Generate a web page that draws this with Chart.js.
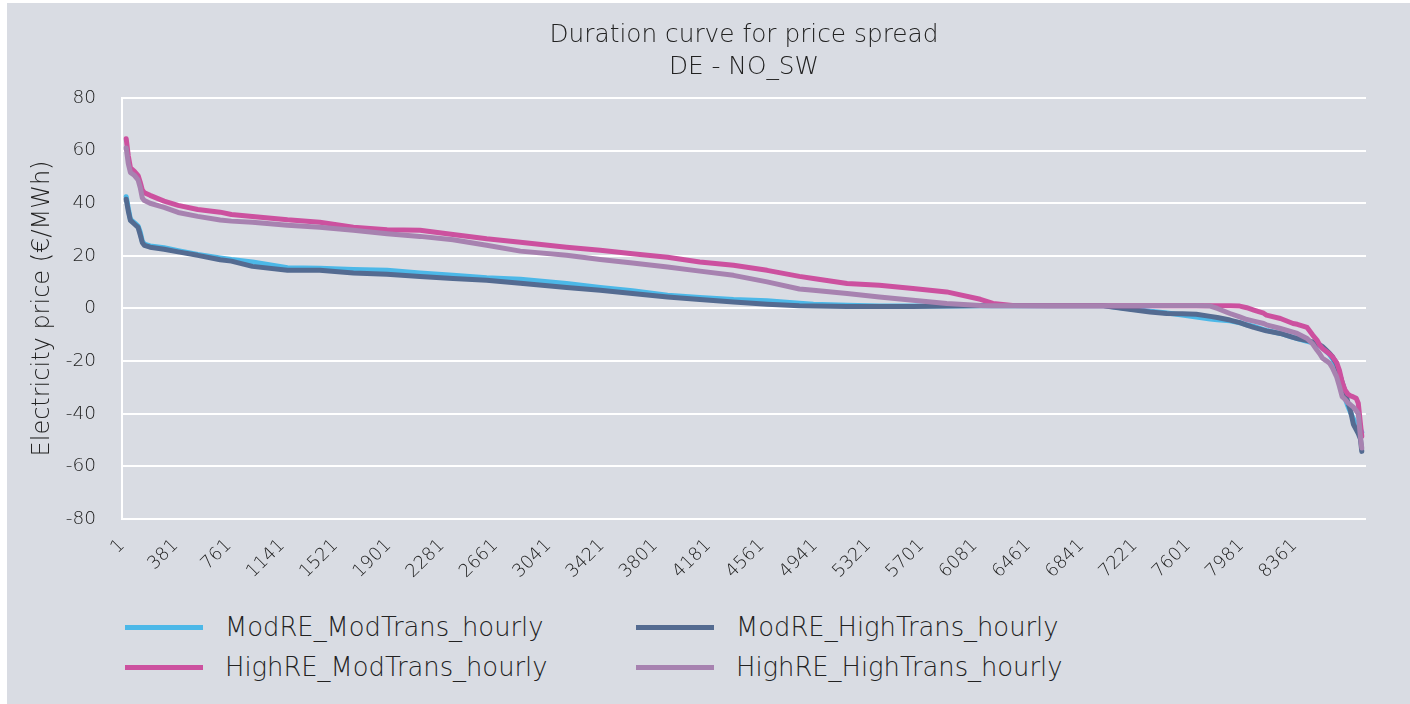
<!DOCTYPE html>
<html>
<head>
<meta charset="utf-8">
<script src="https://cdn.jsdelivr.net/npm/chart.js@4"></script>
<style>
  body { margin: 0; background: #fff; width: 1410px; height: 704px; overflow: hidden; }
  #panel { position: absolute; left: 7px; top: 3px; width: 1403px; height: 701px; background: #d9dce3; }
  #chart { position: absolute; left: 0; top: 0; }
  .leg { position: absolute; font-family: "DejaVu Sans", sans-serif; font-weight: 200; font-size: 25.8px; color: #222; white-space: nowrap; }
  .leg .swatch { position: absolute; top: -2.5px; width: 78px; height: 5px; }
  .leg .txt { position: absolute; top: -17px; line-height: 34px; }
</style>
</head>
<body>
<div id="panel">
  <canvas id="chart" width="1403" height="590"></canvas>
  <div id="legend"></div>
</div>
<script>
// Duration curve, DE - NO_SW price spread (sorted hours)
const titleLines = ['Duration curve for price spread', 'DE - NO_SW'];
const xTickHours = [1, 381, 761, 1141, 1521, 1901, 2281, 2661, 3041, 3421, 3801, 4181,
    4561, 4941, 5321, 5701, 6081, 6461, 6841, 7221, 7601, 7981, 8361];

const hours = [30, 45, 60, 90, 115, 130, 145, 160, 200, 300,
    400, 540, 700, 780, 930, 1180, 1410, 1650, 1890, 2125,
    2360, 2600, 2840, 3170, 3410, 3640, 3890, 4120, 4360, 4600,
    4830, 4930, 5170, 5400, 5640, 5880, 6120, 6210, 6350, 6600,
    7000, 7140, 7330, 7450, 7560, 7660, 7760, 7810, 7900, 7970,
    8020, 8070, 8140, 8160, 8260, 8350, 8380, 8450, 8490, 8520,
    8540, 8560, 8590, 8610, 8630, 8660, 8680, 8700, 8720, 8740,
    8760, 8780, 8800, 8815, 8830, 8840];

const modReModTrans = [42.5, 38, 33.8, 32.5, 31.3, 29, 25.5, 24.5, 23.8, 23.1,
    22, 20.5, 19.2, 18.6, 17.7, 15.5, 15.3, 14.8, 14.5, 13.5,
    12.6, 11.7, 11.1, 9.5, 8, 6.7, 5, 4.2, 3.4, 2.9,
    2.0, 1.6, 1.2, 0.9, 0.9, 0.9, 1, 1, 1, 1,
    1, 0.2, -1, -1.7, -2.5, -3.2, -4, -4.3, -4.7, -5.4,
    -6.2, -6.8, -8, -8.3, -9.5, -11, -11.4, -12.5, -13, -13.8,
    -14.2, -15, -16.5, -17.5, -19, -22, -25.5, -30, -34, -37,
    -39.5, -42, -44, -45, -46, -47];

const modReHighTrans = [41.5, 37, 33.5, 32, 30.8, 28, 25, 24, 23.3, 22.5,
    21.5, 20.2, 18.5, 18, 16, 14.5, 14.5, 13.5, 13, 12.2,
    11.4, 10.7, 9.6, 8, 6.9, 5.7, 4.4, 3.4, 2.5, 1.6,
    1.0, 0.9, 0.8, 0.8, 0.8, 0.9, 1, 1, 1, 1,
    1, 0, -1.3, -1.9, -2, -2.2, -3.0, -3.4, -4.4, -5.4,
    -6.3, -7.2, -8.2, -8.5, -9.5, -11, -11.4, -12.2, -12.7, -13.4,
    -13.8, -14.5, -16, -17, -18.3, -21, -24.6, -28, -31.5, -35.5,
    -39, -44, -46, -47.5, -49.5, -54.3];

const highReModTrans = [64.5, 58, 53.5, 52, 50.5, 48, 45, 44, 43, 40.8,
    39.2, 37.6, 36.6, 35.7, 35, 33.7, 32.8, 30.9, 29.9, 29.7,
    28.1, 26.5, 25.2, 23.3, 22.1, 20.8, 19.5, 17.7, 16.4, 14.5,
    12.2, 11.4, 9.5, 8.8, 7.6, 6.3, 3.5, 1.9, 1.1, 1,
    1, 1, 1, 1, 1, 1, 1, 1, 1, 0.9,
    0.3, -0.6, -1.8, -2.5, -3.8, -5.7, -6.0, -7.2, -10.1, -12,
    -13.9, -15.2, -16.4, -17.3, -18.3, -20.5, -23.4, -28, -30.9, -32.5,
    -33.2, -33.6, -34.1, -36, -43.6, -48.6];

const highReHighTrans = [61, 55, 51.7, 50.5, 48.8, 46, 42, 41, 40, 38.4,
    36.5, 35, 33.6, 33.2, 32.8, 31.6, 30.9, 29.7, 28.4, 27.4,
    26.1, 24, 21.8, 20.2, 18.6, 17.3, 15.8, 14.2, 12.6, 10.1,
    7.4, 6.9, 5.7, 4.4, 3.1, 1.9, 1.1, 1, 1, 1,
    1, 1, 1, 1, 1, 1, 0.9, 0, -1.9, -3.2,
    -4.2, -4.8, -5.7, -6.2, -7.6, -9.0, -9.5, -11.4, -13.5, -15.8,
    -17.2, -18.9, -20, -20.8, -22.5, -25.9, -29.5, -33.5, -34.5, -35.8,
    -36.6, -37.5, -38.8, -40, -48.6, -53];

const seriesNames = ['ModRE_ModTrans_hourly', 'ModRE_HighTrans_hourly',
    'HighRE_ModTrans_hourly', 'HighRE_HighTrans_hourly'];
const seriesColors = ['#4cb8e8', '#546b91', '#cc519f', '#a782b0'];
const seriesValues = [modReModTrans, modReHighTrans, highReModTrans, highReHighTrans];

const fontFamily = '"DejaVu Sans", sans-serif';
const fontWeight = '200';
const textColor = '#222';

// later series sit on top (like the original), so give them a lower draw order
const datasets = seriesValues.map(function(vals, i) {
    return {
        label: seriesNames[i],
        data: hours.map(function(h, j) { return { x: h, y: vals[j] }; }),
        borderColor: seriesColors[i],
        backgroundColor: seriesColors[i],
        order: seriesValues.length - i
    };
});

const chart = new Chart(document.getElementById('chart'), {
    type: 'line',
    data: { datasets: datasets },
    options: {
        responsive: false,
        animation: false,
        layout: { padding: { left: 0, right: 44, top: 0, bottom: 0 } },
        elements: {
            point: { radius: 0 },
            line: { borderWidth: 5, tension: 0, borderJoinStyle: 'round', borderCapStyle: 'round' }
        },
        plugins: {
            legend: { display: false },
            tooltip: { enabled: false },
            title: {
                display: true,
                text: titleLines,
                fullSize: false,
                color: textColor,
                font: { family: fontFamily, size: 24.8, weight: fontWeight, lineHeight: 1.31 },
                padding: { top: 16, bottom: 14 }
            }
        },
        scales: {
            x: {
                type: 'linear',
                min: 0,
                max: 8870,
                afterBuildTicks: function(scale) {
                    scale.ticks = xTickHours.map(function(v) { return { value: v }; });
                },
                afterFit: function(scale) { scale.height = 74; },
                ticks: {
                    autoSkip: false,
                    minRotation: 45,
                    maxRotation: 45,
                    padding: 8,
                    color: textColor,
                    font: { family: fontFamily, size: 18, weight: fontWeight },
                    callback: function(v) { return String(v); }
                },
                grid: { display: false },
                border: { display: false }
            },
            y: {
                min: -80,
                max: 80,
                afterFit: function(scale) { scale.width = 115; },
                ticks: {
                    stepSize: 20,
                    padding: 26,
                    color: textColor,
                    font: { family: fontFamily, size: 18.5, weight: fontWeight }
                },
                grid: { color: '#ffffff', lineWidth: 2, drawTicks: false },
                border: { color: '#ffffff', width: 2 },
                title: {
                    display: true,
                    text: 'Electricity price (€/MWh)',
                    color: textColor,
                    font: { family: fontFamily, size: 24, weight: fontWeight },
                    padding: { top: 21, bottom: 0 }
                }
            }
        }
    }
});

// legend in two columns under the chart
const legendPos = [[118, 624], [629, 624], [118, 664], [629, 664]];
const legendBox = document.getElementById('legend');
chart.data.datasets.forEach(function(ds, i) {
    const item = document.createElement('div');
    item.className = 'leg';
    item.style.left = legendPos[i][0] + 'px';
    item.style.top = legendPos[i][1] + 'px';
    item.innerHTML = '<span class="swatch" style="left:0;background:' + ds.borderColor + '"></span>' +
        '<span class="txt" style="left:100px">' + ds.label + '</span>';
    legendBox.appendChild(item);
});
</script>
</body>
</html>
